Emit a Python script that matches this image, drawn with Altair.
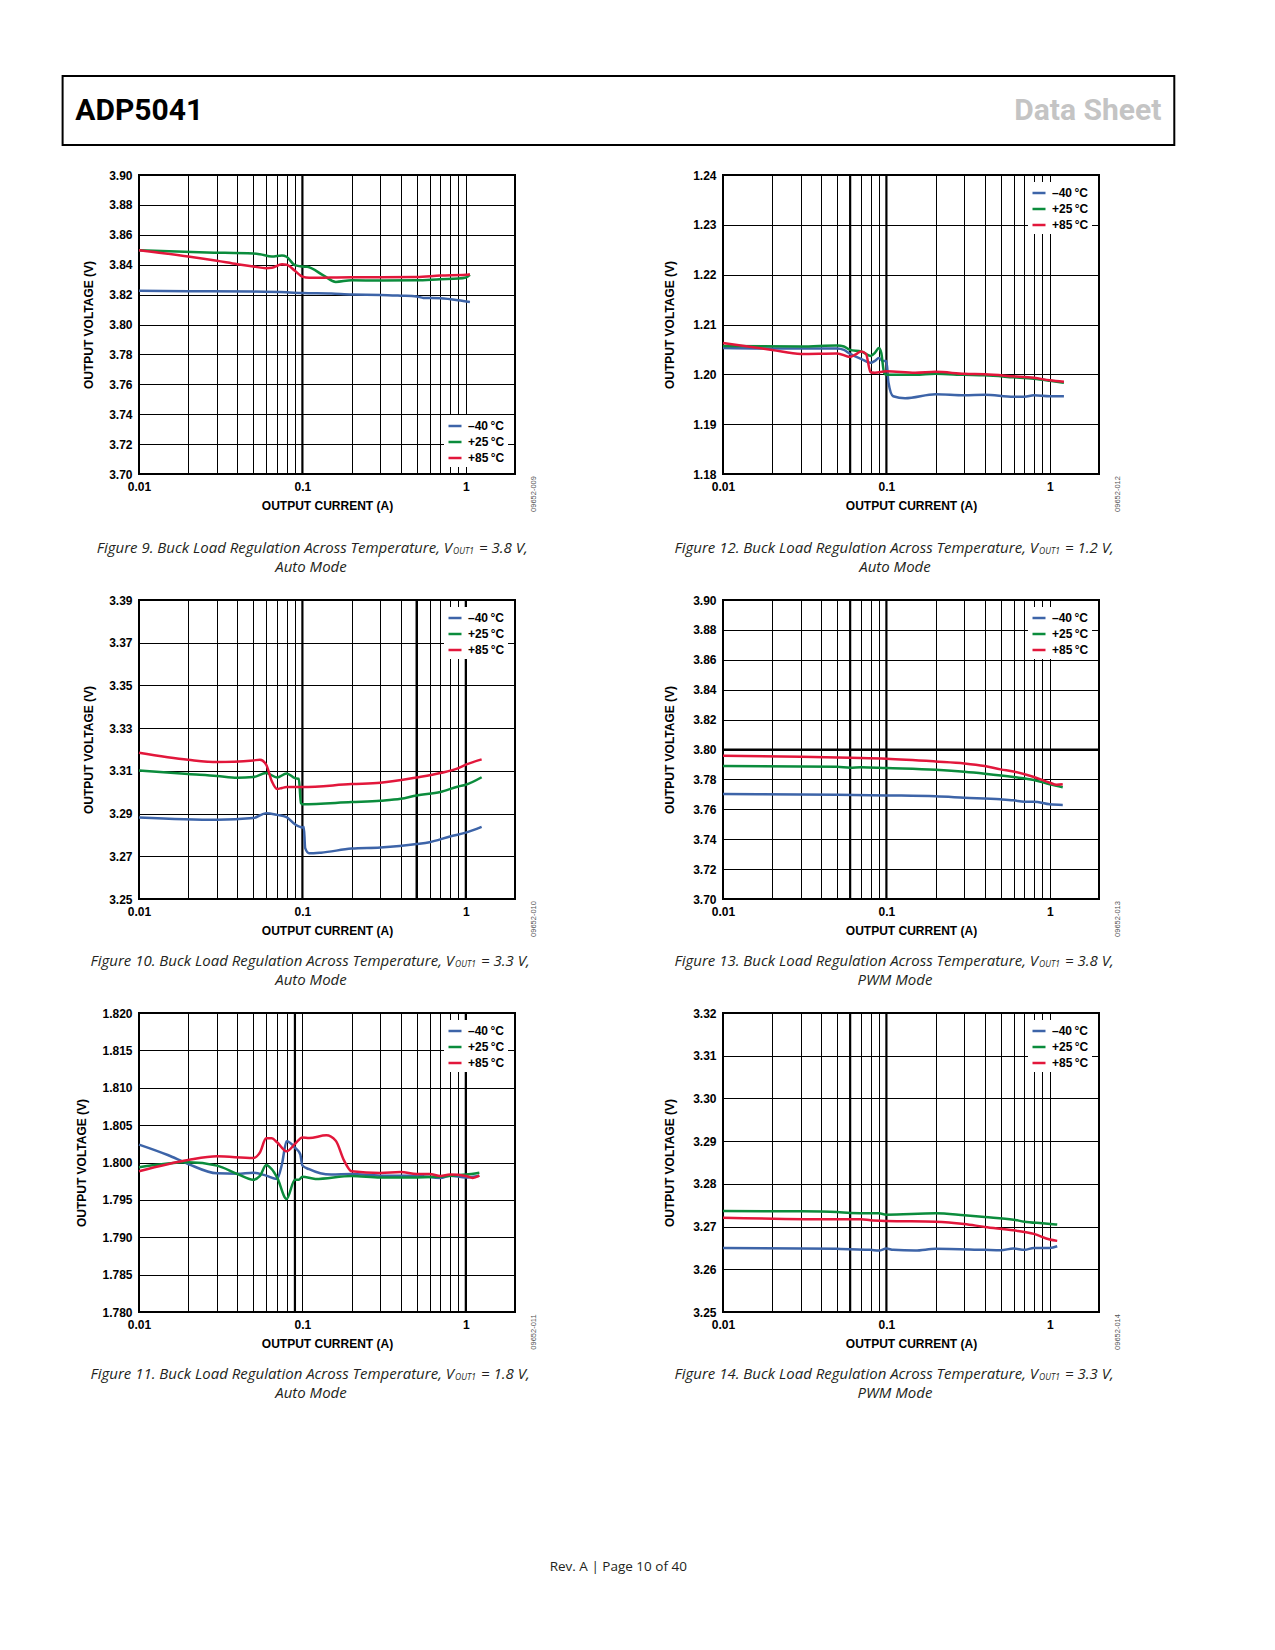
import altair as alt
import pandas as pd

# ---------------- data ----------------
TEMPS = ["\u201340\u2009°C", "+25\u2009°C", "+85\u2009°C"]
COLORS = ["#3d64a8", "#0b8c3c", "#e2173b"]

# Figure 9: VOUT1 = 3.8 V, auto mode
fig9_cold_i = [0.01, 0.02, 0.05, 0.08, 0.1, 0.15, 0.2, 0.3, 0.4, 0.5, 0.55, 0.7, 0.9, 1.06]
fig9_cold_v = [3.8225, 3.8223, 3.8220, 3.8215, 3.8210, 3.8207, 3.8200, 3.8198, 3.8193, 3.8188, 3.8178, 3.8175, 3.8162, 3.8150]
fig9_room_i = [0.01, 0.026, 0.05, 0.055, 0.065, 0.075, 0.08, 0.09, 0.1, 0.107, 0.135, 0.16, 0.2, 0.3, 0.5, 0.7, 0.9, 1.0, 1.06]
fig9_room_v = [3.8497, 3.8482, 3.8475, 3.8470, 3.8455, 3.8462, 3.8453, 3.8397, 3.8388, 3.8386, 3.8327, 3.8285, 3.8296, 3.8294, 3.8296, 3.8303, 3.8307, 3.8314, 3.8332]
fig9_hot_i = [0.01, 0.02, 0.03, 0.04, 0.05, 0.06, 0.065, 0.075, 0.08, 0.09, 0.1, 0.11, 0.2, 0.3, 0.5, 0.7, 1.0, 1.06]
fig9_hot_v = [3.8497, 3.8455, 3.8426, 3.8403, 3.8388, 3.8377, 3.8380, 3.8403, 3.8400, 3.8359, 3.8320, 3.8312, 3.8316, 3.8316, 3.8318, 3.8327, 3.8332, 3.8336]

# Figure 12: VOUT1 = 1.2 V, auto mode
fig12_cold_i = [0.01, 0.02, 0.05, 0.055, 0.06, 0.07, 0.08, 0.085, 0.09, 0.095, 0.1, 0.103, 0.11, 0.13, 0.2, 0.3, 0.4, 0.6, 0.7, 0.8, 1.0, 1.22]
fig12_cold_v = [1.2053, 1.2052, 1.2052, 1.2049, 1.2041, 1.2031, 1.2023, 1.2027, 1.2033, 1.2027, 1.2027, 1.1983, 1.1956, 1.1952, 1.1960, 1.1958, 1.1959, 1.1955, 1.1955, 1.1958, 1.1956, 1.1956]
fig12_room_i = [0.01, 0.03, 0.05, 0.055, 0.06, 0.07, 0.08, 0.085, 0.09, 0.093, 0.097, 0.1, 0.15, 0.2, 0.3, 0.4, 0.6, 0.8, 1.0, 1.22]
fig12_room_v = [1.2057, 1.2056, 1.2058, 1.2056, 1.2049, 1.2046, 1.2037, 1.2043, 1.2053, 1.2043, 1.2002, 1.1999, 1.1999, 1.2001, 1.1999, 1.1998, 1.1994, 1.1991, 1.1987, 1.1983]
fig12_hot_i = [0.01, 0.02, 0.03, 0.05, 0.06, 0.065, 0.07, 0.075, 0.08, 0.085, 0.1, 0.15, 0.2, 0.3, 0.4, 0.6, 0.8, 1.0, 1.22]
fig12_hot_v = [1.2063, 1.2049, 1.2041, 1.2042, 1.2035, 1.2040, 1.2046, 1.2041, 1.2004, 1.2003, 1.2006, 1.2003, 1.2005, 1.2001, 1.2000, 1.1996, 1.1993, 1.1988, 1.1985]

# Figure 10: VOUT1 = 3.3 V, auto mode
fig10_cold_i = [0.01, 0.03, 0.05, 0.06, 0.07, 0.08, 0.09, 0.1, 0.102, 0.104, 0.11, 0.13, 0.2, 0.3, 0.5, 0.6, 0.8, 1.0, 1.25]
fig10_cold_v = [3.2882, 3.2871, 3.2879, 3.2902, 3.2894, 3.2883, 3.2850, 3.2835, 3.2838, 3.2738, 3.2714, 3.2717, 3.2736, 3.2741, 3.2757, 3.2766, 3.2793, 3.2811, 3.2838]
fig10_room_i = [0.01, 0.02, 0.03, 0.04, 0.05, 0.06, 0.07, 0.08, 0.09, 0.095, 0.098, 0.1, 0.2, 0.3, 0.4, 0.5, 0.7, 0.9, 1.0, 1.25]
fig10_room_v = [3.3102, 3.3085, 3.3076, 3.3068, 3.3071, 3.3090, 3.3069, 3.3088, 3.3066, 3.3063, 3.2949, 3.2944, 3.2954, 3.2960, 3.2969, 3.2985, 3.3001, 3.3027, 3.3035, 3.3070]
fig10_hot_i = [0.01, 0.02, 0.03, 0.05, 0.055, 0.06, 0.065, 0.07, 0.075, 0.08, 0.1, 0.2, 0.3, 0.5, 0.7, 0.9, 1.0, 1.25]
fig10_hot_v = [3.3185, 3.3152, 3.3141, 3.3149, 3.3152, 3.3129, 3.3051, 3.3015, 3.3020, 3.3024, 3.3024, 3.3038, 3.3044, 3.3069, 3.3090, 3.3113, 3.3129, 3.3154]

# Figure 13: VOUT1 = 3.8 V, PWM mode
fig13_cold_i = [0.01, 0.05, 0.1, 0.2, 0.3, 0.5, 0.6, 0.7, 0.8, 1.0, 1.2]
fig13_cold_v = [3.7702, 3.7698, 3.7693, 3.7687, 3.7678, 3.7667, 3.7660, 3.7651, 3.7651, 3.7633, 3.7629]
fig13_room_i = [0.01, 0.05, 0.06, 0.07, 0.1, 0.2, 0.3, 0.4, 0.6, 0.8, 1.0, 1.2]
fig13_room_v = [3.7889, 3.7884, 3.7878, 3.7882, 3.7876, 3.7864, 3.7851, 3.7838, 3.7816, 3.7796, 3.7767, 3.7747]
fig13_hot_i = [0.01, 0.03, 0.06, 0.1, 0.2, 0.3, 0.4, 0.5, 0.6, 0.8, 1.0, 1.1, 1.2]
fig13_hot_v = [3.7958, 3.7951, 3.7944, 3.7938, 3.7920, 3.7907, 3.7889, 3.7867, 3.7853, 3.7816, 3.7778, 3.7764, 3.7767]

# Figure 11: VOUT1 = 1.8 V, auto mode
fig11_cold_i = [0.01, 0.015, 0.02, 0.03, 0.04, 0.05, 0.06, 0.07, 0.075, 0.08, 0.09, 0.097, 0.1, 0.11, 0.15, 0.2, 0.3, 0.5, 0.7, 0.8, 1.0, 1.21]
fig11_cold_v = [1.8024, 1.8010, 1.7998, 1.79855, 1.7985, 1.79864, 1.79824, 1.7978, 1.7998, 1.80283, 1.8020, 1.8011, 1.7996, 1.7991, 1.79838, 1.79846, 1.79824, 1.79824, 1.79793, 1.79824, 1.7980, 1.79824]
fig11_room_i = [0.01, 0.02, 0.03, 0.04, 0.05, 0.055, 0.06, 0.065, 0.07, 0.08, 0.09, 0.095, 0.1, 0.12, 0.2, 0.3, 0.5, 1.0, 1.21]
fig11_room_v = [1.79935, 1.80002, 1.79958, 1.79846, 1.7977, 1.7982, 1.79967, 1.7991, 1.7980, 1.79513, 1.7977, 1.7977, 1.7981, 1.7978, 1.7982, 1.7980, 1.7980, 1.79838, 1.79864]
fig11_hot_i = [0.01, 0.02, 0.03, 0.05, 0.055, 0.06, 0.065, 0.07, 0.08, 0.09, 0.1, 0.11, 0.14, 0.16, 0.18, 0.2, 0.3, 0.4, 0.5, 0.6, 0.7, 0.8, 1.0, 1.1, 1.21]
fig11_hot_v = [1.79882, 1.80033, 1.80082, 1.8006, 1.80136, 1.80323, 1.80323, 1.8027, 1.8015, 1.80247, 1.80336, 1.80327, 1.80363, 1.80291, 1.80024, 1.79882, 1.7986, 1.79873, 1.79846, 1.79846, 1.7982, 1.79838, 1.7982, 1.79793, 1.79824]

# Figure 14: VOUT1 = 3.3 V, PWM mode
fig14_cold_i = [0.01, 0.05, 0.08, 0.09, 0.1, 0.11, 0.15, 0.2, 0.4, 0.5, 0.6, 0.7, 0.8, 1.0, 1.11]
fig14_cold_v = [3.26501, 3.26478, 3.26455, 3.26439, 3.26485, 3.26455, 3.26439, 3.26478, 3.26455, 3.26447, 3.26485, 3.26455, 3.26501, 3.26501, 3.2654]
fig14_room_i = [0.01, 0.03, 0.05, 0.06, 0.09, 0.1, 0.2, 0.3, 0.4, 0.6, 0.7, 0.9, 1.11]
fig14_room_v = [3.27364, 3.27357, 3.27341, 3.27318, 3.2731, 3.27279, 3.2731, 3.27263, 3.27224, 3.27162, 3.27115, 3.27077, 3.27046]
fig14_hot_i = [0.01, 0.05, 0.07, 0.08, 0.1, 0.2, 0.3, 0.4, 0.6, 0.8, 1.0, 1.11]
fig14_hot_v = [3.27209, 3.2717, 3.2717, 3.27147, 3.27131, 3.27115, 3.27061, 3.26991, 3.26913, 3.26828, 3.26696, 3.26665]

# grid / tick values
GRID_I = [0.01, 0.02, 0.03, 0.04, 0.05, 0.06, 0.07, 0.08, 0.09,
          0.1, 0.2, 0.3, 0.4, 0.5, 0.6, 0.7, 0.8, 0.9, 1, 2]
TICKS_38 = [3.70, 3.72, 3.74, 3.76, 3.78, 3.80, 3.82, 3.84, 3.86, 3.88, 3.90]
TICKS_12 = [1.18, 1.19, 1.20, 1.21, 1.22, 1.23, 1.24]
TICKS_33A = [3.25, 3.27, 3.29, 3.31, 3.33, 3.35, 3.37, 3.39]
TICKS_18 = [1.780, 1.785, 1.790, 1.795, 1.800, 1.805, 1.810, 1.815, 1.820]
TICKS_33P = [3.25, 3.26, 3.27, 3.28, 3.29, 3.30, 3.31, 3.32]

AXIS_FONT = "Liberation Sans, Arial, Helvetica, sans-serif"
CAP_FONT = "Open Sans, Noto Sans, sans-serif"
HEAD_FONT = "Roboto, Liberation Sans, sans-serif"

W, H = 376, 299
INK = "#231f20"


def text_layer(txt, x, y, size, **kw):
    return alt.Chart(pd.DataFrame({"t": [txt]})).mark_text(
        fontSize=size, baseline="middle", **kw
    ).encode(text="t:N", x=alt.value(x), y=alt.value(y))


def panel(series, y_dom, y_ticks, y_fmt, thick_x, thick_y, leg_orient,
          fig_no, vout, mode, code, cap_y, title_pad):
    rows = []
    for label, (cur, volt) in zip(TEMPS, series):
        for a, b in zip(cur, volt):
            rows.append({"current": a, "voltage": b, "temp": label})
    df = pd.DataFrame(rows)

    x = alt.X("current:Q",
              scale=alt.Scale(type="log", domain=[0.01, 2], nice=False),
              axis=alt.Axis(values=GRID_I, format="~g",
                            labelExpr="(datum.value == 0.01 || datum.value == 0.1 || datum.value == 1) ? datum.label : ''",
                            labelFlush=False, labelOverlap=False, labelPadding=7,
                            title="OUTPUT CURRENT (A)", titlePadding=8))
    y = alt.Y("voltage:Q",
              scale=alt.Scale(domain=y_dom, nice=False, zero=False),
              axis=alt.Axis(values=y_ticks, format=y_fmt, labelPadding=7,
                            labelOverlap=False,
                            title="OUTPUT VOLTAGE (V)", titlePadding=title_pad))

    lines = alt.Chart(df).mark_line(strokeWidth=2.5, interpolate="monotone").encode(
        x=x, y=y,
        color=alt.Color("temp:N",
                        scale=alt.Scale(domain=TEMPS, range=COLORS),
                        legend=alt.Legend(title=None, orient=leg_orient, offset=7,
                                          fillColor="white", padding=3,
                                          symbolType="stroke", symbolSize=169,
                                          symbolStrokeWidth=2.5, rowPadding=2,
                                          labelOffset=5, labelFont=AXIS_FONT,
                                          labelFontSize=12, labelFontWeight="bold",
                                          labelColor="black")),
    )

    layers = []
    if thick_x:
        layers.append(alt.Chart(pd.DataFrame({"current": thick_x})).mark_rule(
            color="black", strokeWidth=2.2).encode(x=x))
    if thick_y:
        layers.append(alt.Chart(pd.DataFrame({"voltage": thick_y})).mark_rule(
            color="black", strokeWidth=2.2).encode(y=y))
    layers.append(lines)

    # figure code, rotated, right of the plot
    layers.append(text_layer(code, W + 19, H + 20, 7.5, angle=270,
                             font=AXIS_FONT, color="#555555", align="center"))

    # caption with subscript
    xa = 313 if fig_no < 10 else 315
    cap = f"Figure {fig_no}. Buck Load Regulation Across Temperature, V"
    layers.append(text_layer(cap, xa, cap_y, 15, align="right", font=CAP_FONT,
                             fontStyle="italic", color=INK))
    layers.append(text_layer("OUT1", xa + 1, cap_y + 2.5, 8.5, align="left", font=CAP_FONT,
                             fontStyle="italic", color=INK))
    layers.append(text_layer(f"= {vout} V,", xa + 27, cap_y, 15, align="left",
                             font=CAP_FONT, fontStyle="italic", color=INK))
    layers.append(text_layer(mode, 172, cap_y + 18.5, 15, align="center",
                             font=CAP_FONT, fontStyle="italic", color=INK))

    return alt.layer(*layers).properties(width=W, height=H)


fig9 = panel([(fig9_cold_i, fig9_cold_v), (fig9_room_i, fig9_room_v), (fig9_hot_i, fig9_hot_v)],
             [3.70, 3.90], TICKS_38, ".2f", [0.1], [], "bottom-right",
             9, "3.8", "Auto Mode", "09652-009", 373, 13)
fig12 = panel([(fig12_cold_i, fig12_cold_v), (fig12_room_i, fig12_room_v), (fig12_hot_i, fig12_hot_v)],
              [1.18, 1.24], TICKS_12, ".2f", [0.06, 0.1], [], "top-right",
              12, "1.2", "Auto Mode", "09652-012", 373, 16)
fig10 = panel([(fig10_cold_i, fig10_cold_v), (fig10_room_i, fig10_room_v), (fig10_hot_i, fig10_hot_v)],
              [3.25, 3.39], TICKS_33A, ".2f", [0.1, 0.5, 1], [], "top-right",
              10, "3.3", "Auto Mode", "09652-010", 361, 13)
fig13 = panel([(fig13_cold_i, fig13_cold_v), (fig13_room_i, fig13_room_v), (fig13_hot_i, fig13_hot_v)],
              [3.70, 3.90], TICKS_38, ".2f", [0.06, 0.1], [3.80], "top-right",
              13, "3.8", "PWM Mode", "09652-013", 361, 16)
fig11 = panel([(fig11_cold_i, fig11_cold_v), (fig11_room_i, fig11_room_v), (fig11_hot_i, fig11_hot_v)],
              [1.780, 1.820], TICKS_18, ".3f", [0.09, 1], [], "top-right",
              11, "1.8", "Auto Mode", "09652-011", 361, 13)
fig14 = panel([(fig14_cold_i, fig14_cold_v), (fig14_room_i, fig14_room_v), (fig14_hot_i, fig14_hot_v)],
              [3.25, 3.32], TICKS_33P, ".2f", [0.06, 0.1], [], "top-right",
              14, "3.3", "PWM Mode", "09652-014", 361, 16)


def row(a, b):
    return alt.hconcat(a, b, spacing=123).resolve_scale(color="independent").resolve_legend(color="independent")


# page header: framed box with the part number and "Data Sheet"
header = alt.layer(
    alt.Chart(pd.DataFrame({"a": [0]})).mark_rect(
        fillOpacity=0, stroke="black", strokeWidth=2
    ).encode(x=alt.value(-76.4), x2=alt.value(1035.3), y=alt.value(0), y2=alt.value(69)),
    text_layer("ADP5041", -63.7, 35, 30, align="left", font=HEAD_FONT,
               fontWeight="bold", color="black"),
    text_layer("Data Sheet", 1022.3, 35, 30, align="right", font=HEAD_FONT,
               fontWeight="bold", color="#c4c4c4"),
).properties(width=1030, height=69, view=alt.ViewBackground(strokeOpacity=0))

footer = text_layer("Rev. A | Page 10 of 40", 479.3, 148, 13.5, align="center",
                    font=CAP_FONT, color=INK).properties(
    width=1030, height=160, view=alt.ViewBackground(strokeOpacity=0))

body = alt.vconcat(row(fig9, fig12), row(fig10, fig13), row(fig11, fig14), footer,
                   spacing=17).resolve_scale(color="independent").resolve_legend(color="independent")

chart = alt.vconcat(header, body, spacing=22).resolve_scale(
    color="independent").resolve_legend(color="independent").properties(
    padding={"left": 53, "top": 67, "right": 5, "bottom": 5}
).configure_view(
    stroke="black", strokeWidth=2
).configure_axis(
    grid=True, gridColor="black", gridWidth=1, gridOpacity=1,
    domain=False, ticks=False,
    labelFont=AXIS_FONT, labelFontSize=12, labelFontWeight="bold", labelColor="black",
    titleFont=AXIS_FONT, titleFontSize=12, titleFontWeight="bold", titleColor="black",
)

chart.save("out.html", embed_options={"renderer": "svg", "actions": False})
